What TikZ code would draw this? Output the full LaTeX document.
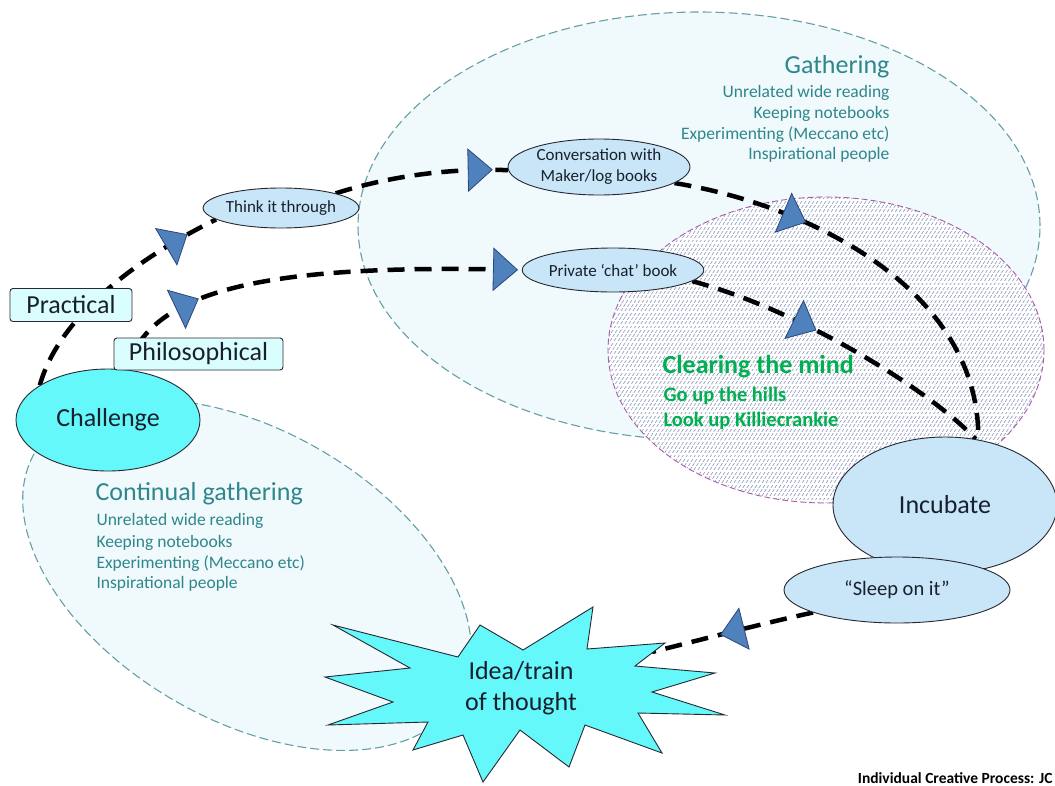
\documentclass[tikz,border=0pt]{standalone}
\usepackage{fontspec}
\setmainfont{Carlito}
\usetikzlibrary{patterns.meta,decorations.markings,shapes.geometric}
\pgfdeclarelayer{back}
\pgfdeclarelayer{mid}
\pgfsetlayers{back,mid,main}

\definecolor{zonefill}{RGB}{240,249,251}
\definecolor{zoneedge}{RGB}{100,160,165}
\definecolor{mindedge}{RGB}{170,90,170}
\definecolor{hatchline}{RGB}{150,162,192}
\definecolor{paleblue}{RGB}{200,230,248}
\definecolor{brightcyan}{RGB}{100,248,250}
\definecolor{labelcyan}{RGB}{218,254,254}
\definecolor{gathertext}{RGB}{45,135,140}
\definecolor{mindgreen}{RGB}{0,176,80}
\definecolor{tipfill}{RGB}{79,129,189}
\definecolor{tipedge}{RGB}{45,70,120}
\definecolor{edgegray}{RGB}{40,40,50}
\definecolor{inktext}{RGB}{25,32,45}

\newcommand\fsbig{\fontsize{26}{31}\selectfont}
\newcommand\fslist{\fontsize{17.5}{21}\selectfont}
\newcommand\fsbubble{\fontsize{17}{21}\selectfont}
\newcommand\fssleep{\fontsize{20.5}{25}\selectfont}
\newcommand\fsnote{\fontsize{15.5}{18}\selectfont}
% blue triangle marker placed along a flow line
\newcommand\flowtip{\draw[solid, line width=0.8pt, draw=tipedge, fill=tipfill] (12,0) -- (-12,21) -- (-12,-21) -- cycle;}

\tikzset{
  every node/.style={text=inktext},
  bubble/.style={ellipse, draw=edgegray, line width=0.9pt, fill=paleblue, inner sep=0pt, align=center},
  hotbubble/.style={bubble, fill=brightcyan},
  tag/.style={rectangle, rounded corners=3pt, draw=edgegray, line width=0.9pt, fill=labelcyan, inner sep=0pt, font=\fsbig},
  flow/.style={line width=4.5pt, dash pattern=on 17pt off 10pt, draw=black},
  zone/.style={dash pattern=on 9pt off 4pt, line width=1.1pt, draw=zoneedge},
  tipat/.style={postaction={decorate, decoration={markings, mark=at position #1 with {\flowtip}}}},
  zonetitle/.style={font=\fsbig, text=gathertext},
  zoneitem/.style={font=\fslist, text=gathertext},
}

\begin{document}
\begin{tikzpicture}[x=1pt, y=-1pt]
\useasboundingbox (0,0) rectangle (1055,785);

% ---------- background zones ----------
\begin{pgfonlayer}{back}
  \fill[white] (0,0) rectangle (1055,785);
  % Gathering
  \draw[zone, fill=zonefill] (699,226) ellipse [x radius=341pt, y radius=214pt];
  % Continual gathering
  \draw[zone, fill=zonefill, rotate around={-30:(247,575)}]
       (247,575) ellipse [x radius=245pt, y radius=145pt];
  % Clearing the mind (hatched in short diagonal strokes)
  \fill[white] (826,350) ellipse [x radius=218pt, y radius=153pt];
  \path[pattern={Lines[angle=58, distance=3.4pt, line width=0.7pt]}, pattern color=hatchline]
       (826,350) ellipse [x radius=218pt, y radius=153pt];
  \path[pattern={Lines[angle=0, distance=4.3pt, line width=1.4pt]}, pattern color=white]
       (826,350) ellipse [x radius=218pt, y radius=153pt];
  \draw[zone, draw=mindedge, dash pattern=on 6pt off 3pt, line width=0.9pt]
       (826,350) ellipse [x radius=218pt, y radius=153pt];
\end{pgfonlayer}

% ---------- zone texts ----------
\node[zonetitle, anchor=base east] (gtitle) at (893,73) {Gathering};
\node[zoneitem, anchor=base east] (g1) at (893,97) {Unrelated wide reading};
\node[zoneitem, anchor=base east] (g2) at (893,118) {Keeping notebooks};
\node[zoneitem, anchor=base east] (g3) at (893,139) {Experimenting (Meccano etc)};
\node[zoneitem, anchor=base east] (g4) at (893,159) {Inspirational people};

\node[zonetitle, anchor=base west] (ctitle) at (92,500) {Continual gathering};
\node[zoneitem, anchor=base west] (c1) at (93,525) {Unrelated wide reading};
\node[zoneitem, anchor=base west] (c2) at (93,547) {Keeping notebooks};
\node[zoneitem, anchor=base west] (c3) at (93,568) {Experimenting (Meccano etc)};
\node[zoneitem, anchor=base west] (c4) at (93,588) {Inspirational people};

\node[anchor=base west, font=\fsbig\bfseries, text=mindgreen] (mtitle) at (659,373) {Clearing the mind};
\node[anchor=base west, font=\fssleep\bfseries, text=mindgreen] (m1) at (660,401) {Go up the hills};
\node[anchor=base west, font=\fssleep\bfseries, text=mindgreen] (m2) at (660,426) {Look up Killiecrankie};

% ---------- nodes ----------
\node[hotbubble, minimum width=184pt, minimum height=102pt, font=\fsbig] (chal) at (108,420) {Challenge};
\node[tag, minimum width=122pt, minimum height=33pt] (prac) at (71,305) {Practical};
\node[tag, minimum width=169pt, minimum height=32pt] (phil) at (198.5,354) {Philosophical};
\node[bubble, minimum width=136pt, minimum height=40pt, font=\fsbubble] (think) at (281,208) {Think it through};
\node[bubble, minimum width=182pt, minimum height=56pt, font=\fsbubble] (conv) at (599,167) {Conversation with\\Maker/log books};
\node[bubble, minimum width=158pt, minimum height=44pt, font=\fsbubble] (priv) at (613,270) {Private ‘chat’ book};
\node[bubble, minimum width=224pt, minimum height=136pt, font=\fsbig] (inc) at (945,505) {Incubate};
\node[bubble, minimum width=226pt, minimum height=66pt, font=\fssleep] (sleep) at (897,590) {“Sleep on it”};

% starburst
\draw[line width=0.9pt, draw=edgegray, fill=brightcyan]
  (333,625) -- (458,657) -- (480,625) -- (523,650) -- (593,607) -- (587,649)
  -- (665,643) -- (635,666) -- (715,673) -- (652,692) -- (725,715) -- (638,713)
  -- (662,753) -- (585,725) -- (569,767) -- (520,730) -- (483,782) -- (463,735)
  -- (413,750) -- (428,722) -- (328,725) -- (393,702) -- (325,677) -- (410,668) -- cycle;
\node[font=\fsbig, align=center] (idea) at (521,688) {Idea/train\\of thought};
\coordinate (ideaIn) at (652,652);

\node[anchor=base east, font=\fsnote\bfseries, text=black] (credit) at (1056,783) {Individual Creative Process: JC};

% ---------- flow lines ----------
\begin{pgfonlayer}{mid}
  \draw[flow, tipat=0.82] (chal.153) .. controls (58,320) and (130,262) .. (think.190);
  \draw[flow, tipat=0.84] (think.15) .. controls (390,176) and (450,168) .. (conv.182);
  \draw[flow, tipat=0.29] (conv.-12) .. controls (810,205) and (980,290) .. (inc.63);
  \draw[flow, tipat=0.215, tipat=0.962] (chal.71) .. controls (150,300) and (230,262) .. (priv.180);
  \draw[flow, tipat=0.37] (priv.-8) .. controls (800,310) and (930,390) .. (inc.65);
  \draw[flow, tipat=0.5] (sleep.195) .. controls (760,624) and (700,640) .. (ideaIn);
\end{pgfonlayer}
\end{tikzpicture}
\end{document}
